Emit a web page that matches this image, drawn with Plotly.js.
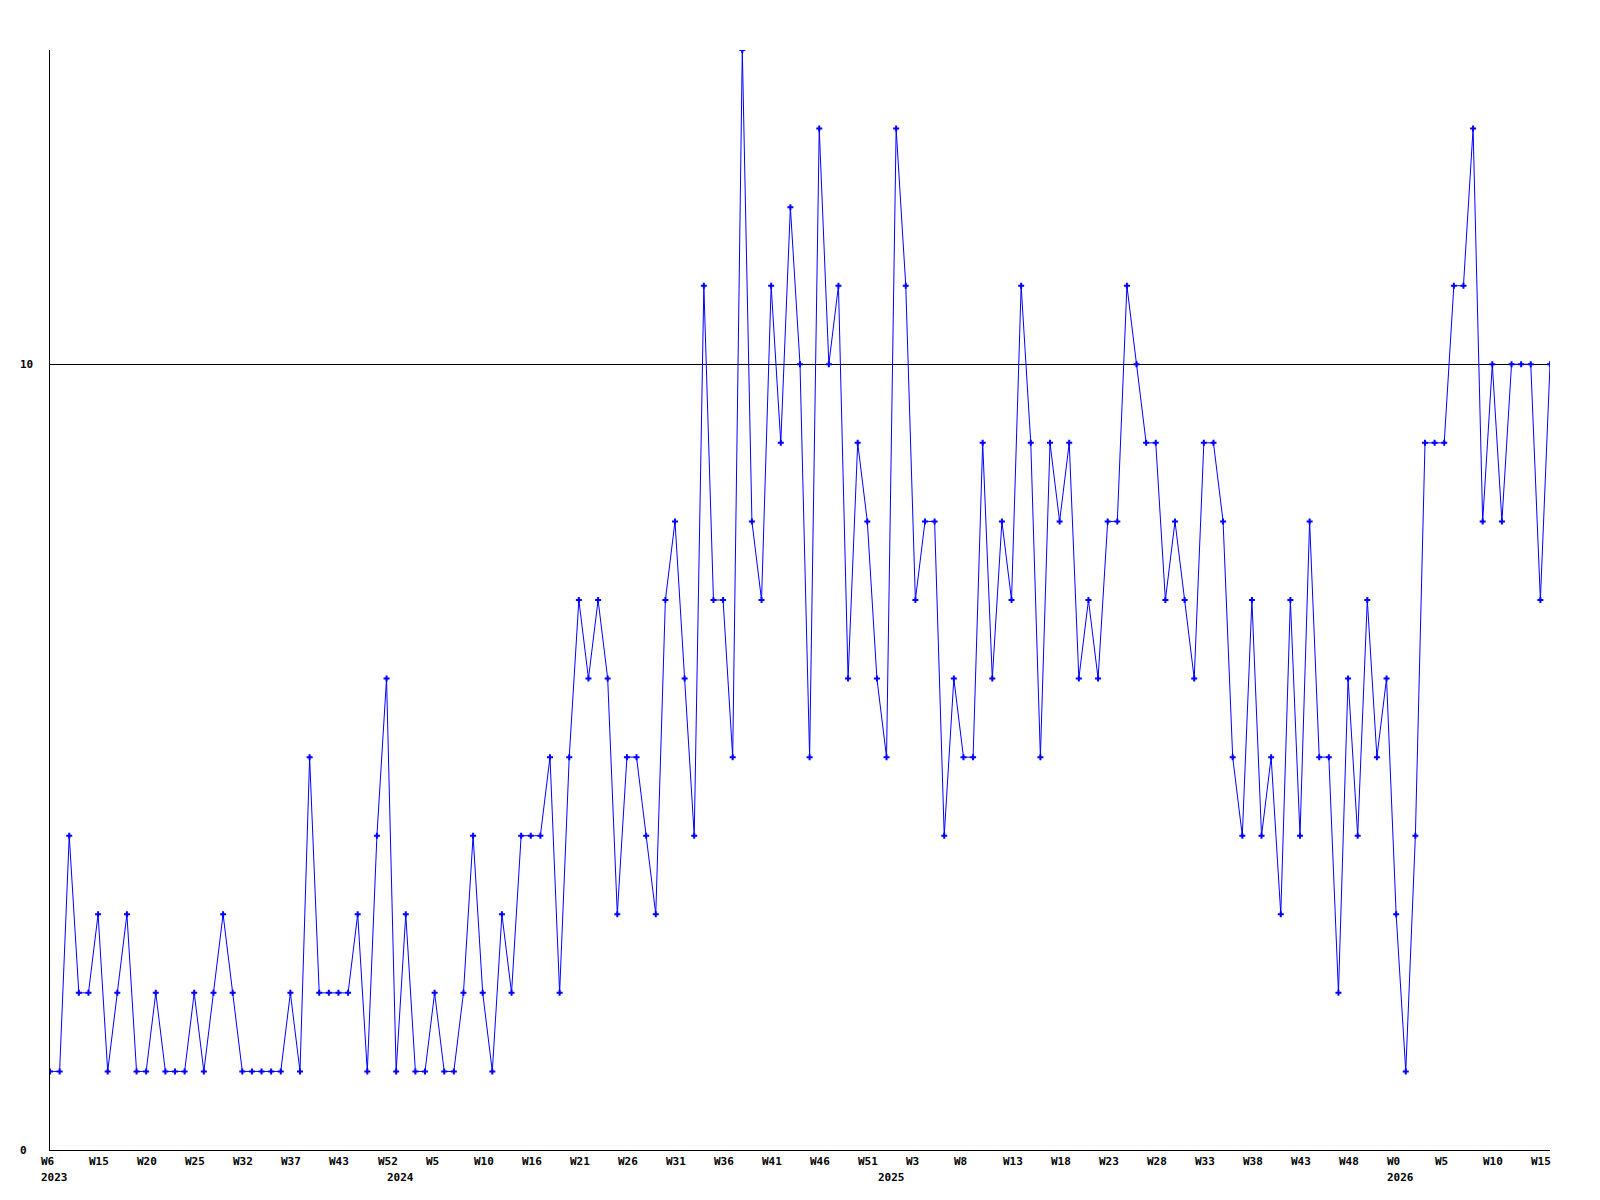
<!DOCTYPE html>
<html>
<head>
<meta charset="utf-8">
<script src="https://cdn.plot.ly/plotly-3.0.1.min.js"></script>
<style>html,body{margin:0;padding:0;background:#fff;}#chart{width:1600px;height:1200px;}</style>
</head>
<body>
<div id="chart"></div>
<script>
// Weekly values, one per point
const values = [
  1,1,4,2,2,3,1,2,3,1, 1,2,1,1,1,2,1,2,3,2, 1,1,1,1,1,2,1,5,2,2, 2,2,3,1,4,6,1,3,1,
  1,2,1,1,2,4,2,1,3,2,4,4,4,5,2,
  5,7,6,7,6,3,5,5,4,3,7,8,6,4,11,7,
  7,5,14,8,7,11,9,12,10,5,13,10,11,6,9,8,6,5,13,11,7,8,8,4,6,5,
  5,9,6,8,7,11,9,5,9,8,9,6,7,6,8,8,11,10,9,9,7,8,7,6,9,9,
  8,5,4,7,4,5,3,7,4,8,5,5,2,6,4,7,5,6,3,1,4,
  9,9,9,11,11,13,8,10,8,10,10,10,7,10
];
// Week tick labels (one every 5 points)
const weekLabels = ['W6','W15','W20','W25','W32','W37','W43','W52','W5','W10','W16',
  'W21','W26','W31','W36','W41','W46','W51','W3','W8','W13','W18','W23','W28',
  'W33','W38','W43','W48','W0','W5','W10','W15'];
const weekLabelStep = 5;
// Year labels and the point index each sits under
const yearLabels = ['2023','2024','2025','2026'];
const yearIndex = [0, 36, 87, 140];
// Y tick values
const yTicks = [0, 10];

const xIdx = values.map((_, i) => i);
const font = {family: 'DejaVu Sans Mono, Liberation Mono, monospace', size: 11, color: '#000', weight: 'bold'};

const annotations = [];
weekLabels.forEach((t, i) => {
  annotations.push({xref: 'x', yref: 'paper', x: i * weekLabelStep, y: 0, text: t,
    showarrow: false, xanchor: 'left', yanchor: 'middle', xshift: -11, yshift: -11, font: font});
});
yearLabels.forEach((t, i) => {
  annotations.push({xref: 'x', yref: 'paper', x: yearIndex[i], y: 0, text: t,
    showarrow: false, xanchor: 'left', yanchor: 'middle', xshift: -11, yshift: -27, font: font});
});
yTicks.forEach(v => {
  annotations.push({xref: 'paper', yref: 'y', x: -0.02, y: v, text: String(v),
    showarrow: false, xanchor: 'left', yanchor: 'middle', xshift: -2, font: font});
});

const trace = {
  x: xIdx, y: values, type: 'scatter', mode: 'lines+markers',
  line: {color: '#0000ff', width: 1},
  marker: {symbol: 'cross', size: 5, color: '#0000ff', line: {width: 0}},
  hoverinfo: 'skip'
};

const layout = {
  width: 1600, height: 1200,
  margin: {l: 50, r: 50, t: 50, b: 50, pad: 0},
  paper_bgcolor: '#ffffff', plot_bgcolor: '#ffffff',
  showlegend: false,
  xaxis: {range: [0, values.length - 1], showgrid: false, zeroline: false,
    showline: true, linecolor: '#000', linewidth: 1, showticklabels: false, ticks: ''},
  yaxis: {range: [0, 14], tickvals: yTicks, showgrid: true, gridcolor: '#000', gridwidth: 1,
    zeroline: false, showline: true, linecolor: '#000', linewidth: 1,
    showticklabels: false, ticks: ''},
  annotations: annotations
};

Plotly.newPlot('chart', [trace], layout, {staticPlot: true, displayModeBar: false});
</script>
</body>
</html>
